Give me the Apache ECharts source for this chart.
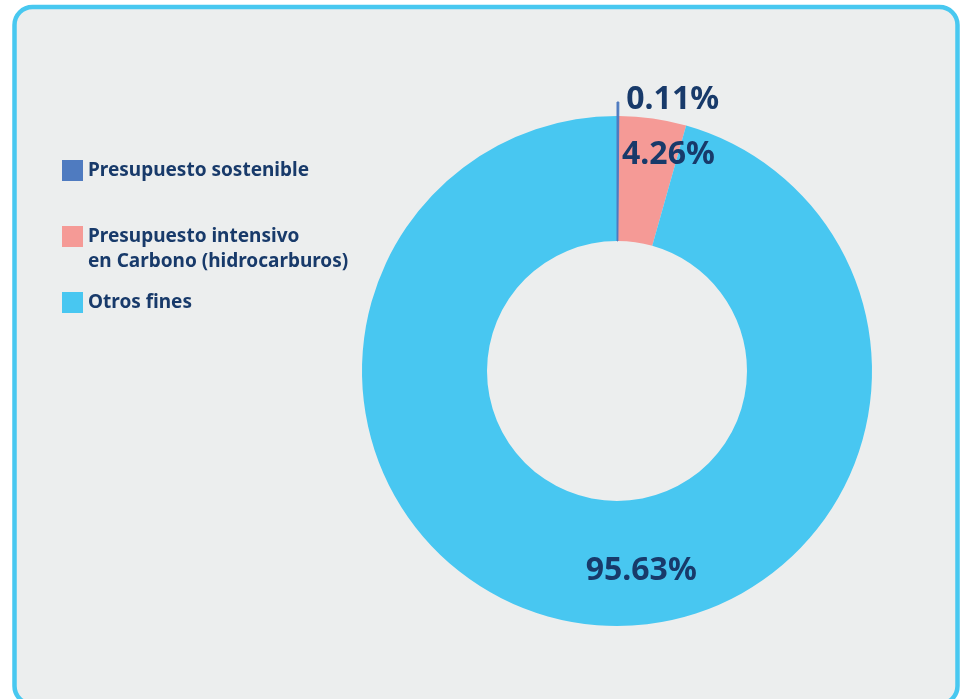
<!DOCTYPE html>
<html>
<head>
<meta charset="utf-8">
<script src="https://cdn.jsdelivr.net/npm/echarts@6/dist/echarts.min.js"></script>
<style>
html,body{margin:0;padding:0;background:#ffffff;}
#chart{width:961px;height:699px;}
</style>
</head>
<body>
<div id="chart"></div>
<script>
var categories = ['Presupuesto sostenible', 'Presupuesto intensivo\nen Carbono (hidrocarburos)', 'Otros fines'];
var values = [0.11, 4.26, 95.63];
var colors = ['#4f7bc0', '#f59a96', '#48c7f1'];
var labelOffsets = [[55, -76], [24, -23], [51, 6]];

var textColor = '#183a6a';
var fontFam = '"Noto Sans", "Open Sans", sans-serif';

var mainData = categories.map(function (c, i) {
  return {
    name: c,
    value: values[i],
    itemStyle: { color: colors[i] },
    label: { offset: labelOffsets[i] }
  };
});
var overlayData = categories.map(function (c, i) {
  return {
    name: c,
    value: values[i],
    itemStyle: i === 0 ? { color: colors[i], borderColor: colors[i], borderWidth: 1 } : { color: 'rgba(0,0,0,0)' }
  };
});

var chart = echarts.init(document.getElementById('chart'), null, { renderer: 'canvas' });
chart.setOption({
  animation: false,
  backgroundColor: '#ffffff',
  graphic: [{
    type: 'rect',
    z: -10,
    shape: { x: 14.5, y: 7, width: 943, height: 697, r: 18 },
    style: { fill: '#eceeee', stroke: '#48c8f0', lineWidth: 4.5 }
  }],
  legend: {
    orient: 'vertical',
    left: 57,
    top: 153,
    itemWidth: 21,
    itemHeight: 21,
    itemGap: 16,
    icon: 'rect',
    formatter: function (name) {
      return name.indexOf('\n') >= 0 ? ' \n' + name : name;
    },
    textStyle: { color: textColor, fontFamily: fontFam, fontWeight: 'bold', fontSize: 19, lineHeight: 25 },
    data: categories
  },
  series: [{
    type: 'pie',
    center: [617, 371],
    radius: [130, 255],
    startAngle: 90,
    clockwise: true,
    avoidLabelOverlap: false,
    itemStyle: { borderWidth: 0 },
    label: {
      show: true,
      position: 'inside',
      formatter: function (p) { return p.value.toFixed(2) + '%'; },
      color: textColor,
      fontFamily: fontFam,
      fontWeight: 'bold',
      fontSize: 32
    },
    labelLine: { show: false },
    emphasis: { disabled: true },
    data: mainData
  }, {
    type: 'pie',
    center: [617, 371],
    radius: [130, 269],
    startAngle: 90,
    clockwise: true,
    silent: true,
    z: 3,
    label: { show: false },
    labelLine: { show: false },
    emphasis: { disabled: true },
    data: overlayData
  }]
});
</script>
</body>
</html>
